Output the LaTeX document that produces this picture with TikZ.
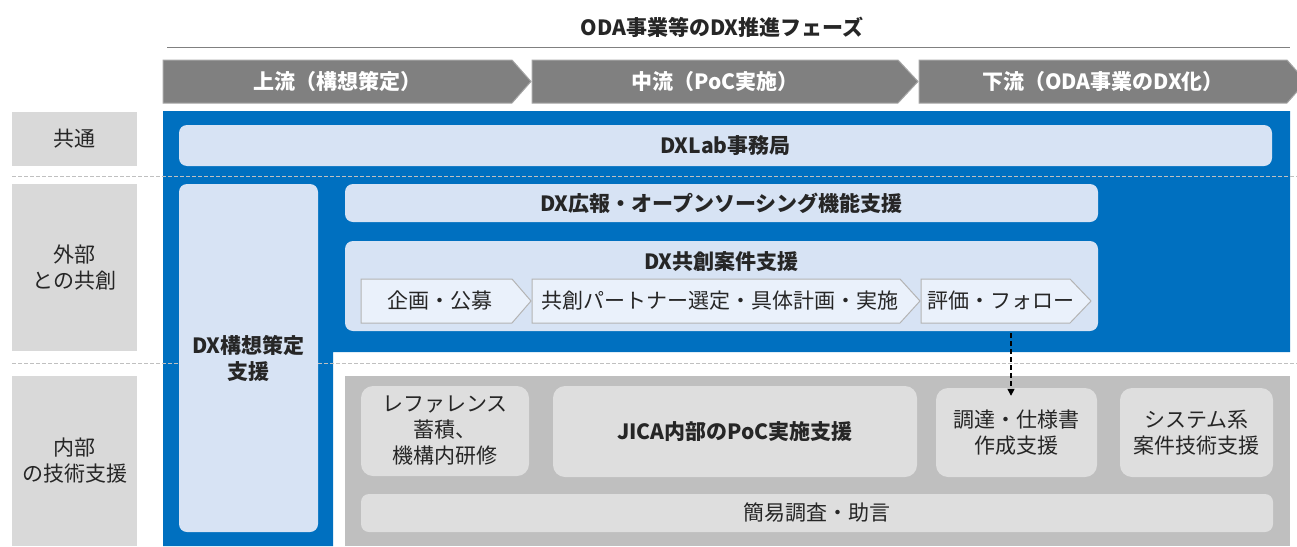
\documentclass[tikz,border=0pt]{standalone}
\usepackage{fontspec}
\setmainfont{Noto Sans CJK JP}
\usetikzlibrary{arrows.meta}
\definecolor{dxblue}{HTML}{0070C0}
\definecolor{lblue}{HTML}{D7E3F4}
\definecolor{chevin}{HTML}{EAF1FB}
\definecolor{chevline}{HTML}{B4B4B4}
\definecolor{labgray}{HTML}{D9D9D9}
\definecolor{areagray}{HTML}{BFBFBF}
\definecolor{boxgray}{HTML}{DEDEDE}
\definecolor{phasegray}{HTML}{808080}
\definecolor{phaseline}{HTML}{A6A6A6}
\definecolor{txt}{HTML}{262626}
\definecolor{sepgray}{HTML}{C0C0C0}
\newcommand{\fsz}{\fontsize{21}{26}\selectfont}
\begin{document}
\begin{tikzpicture}[x=1pt,y=-1pt,
  font=\fsz,
  lab/.style={fill=labgray, inner sep=0pt, align=center, text=txt},
  lbox/.style={fill=lblue, rounded corners=8pt, inner sep=0pt, align=center, text=txt},
  gbox/.style={fill=boxgray, rounded corners=12pt, inner sep=0pt, align=center, text=txt},
  phase/.style={fill=phasegray, draw=phaseline, line width=1pt},
  phasetext/.style={text=white, font=\fsz\bfseries, inner sep=0pt},
  chevbox/.style={fill=chevin, draw=chevline, line width=1pt},
  chevtext/.style={text=txt, inner sep=0pt},
  sepline/.style={draw=sepgray, line width=1pt, dash pattern=on 4pt off 2pt},
  dasharrow/.style={draw=black, line width=1.3pt, dash pattern=on 5pt off 3pt, -{Triangle[length=7pt,width=7pt]}}
]
\useasboundingbox (0,0) rectangle (1297,546);

% title
\node[text=txt, font=\fsz\bfseries, inner sep=0pt] (title) at (722,27) {ODA事業等のDX推進フェーズ};
\draw[draw=phasegray, line width=1pt] (167,47) -- (1290,47);

% phase chevrons
\path[phase] (163,60) -- (512,60) -- (531,81.5) -- (512,103) -- (163,103) -- cycle;
\node[phasetext] (ph1) at (337.5,81.5) {上流（構想策定）};
\path[phase] (532,60) -- (898,60) -- (918,81.5) -- (898,103) -- (532,103) -- cycle;
\node[phasetext] (ph2) at (715,81.5) {中流（PoC実施）};
\path[phase] (919,60) -- (1287,60) -- (1306,81.5) -- (1287,103) -- (919,103) -- cycle;
\node[phasetext] (ph3) at (1103,81.5) {下流（ODA事業のDX化）};

% row labels
\node[lab, minimum width=125pt, minimum height=54pt] (lab1) at (74.5,139) {共通};
\node[lab, minimum width=125pt, minimum height=167pt] (lab2) at (74.5,267.5) {外部\\との共創};
\node[lab, minimum width=125pt, minimum height=170pt] (lab3) at (74.5,461) {内部\\の技術支援};

% blue and gray areas
\fill[dxblue] (163,111) -- (1290,111) -- (1290,352) -- (333,352) -- (333,546) -- (163,546) -- cycle;
\fill[areagray] (345,376) rectangle (1290,546);

% separators
\draw[sepline] (12,176) -- (1297,176);
\draw[sepline] (12,363) -- (1297,363);

% blue boxes
\node[lbox, minimum width=1093pt, minimum height=41pt, font=\fsz\bfseries] (dxlab) at (725.5,145.5) {DXLab事務局};
\node[lbox, minimum width=139pt, minimum height=348pt, font=\fsz\bfseries] (concept) at (248.5,358) {DX構想策定\\支援};
\node[lbox, minimum width=753pt, minimum height=38pt, font=\fsz\bfseries] (pr) at (721.5,203) {DX広報・オープンソーシング機能支援};
\node[lbox, minimum width=753pt, minimum height=90pt] (cocreate) at (721.5,286) {};
\node[text=txt, inner sep=0pt, font=\fsz\bfseries] (cotitle) at (721.5,262) {DX共創案件支援};

% inner chevrons
\path[chevbox] (361,279) -- (512,279) -- (531,301) -- (512,323) -- (361,323) -- cycle;
\node[chevtext] (plan) at (440,301) {企画・公募};
\path[chevbox] (532,279) -- (900,279) -- (920,301) -- (900,323) -- (532,323) -- cycle;
\node[chevtext] (partner) at (720,301) {共創パートナー選定・具体計画・実施};
\path[chevbox] (921,279) -- (1070,279) -- (1091,301) -- (1070,323) -- (921,323) -- cycle;
\node[chevtext] (eval) at (1001,301) {評価・フォロー};

% gray boxes
\node[gbox, minimum width=168pt, minimum height=90pt] (ref) at (445,431) {レファレンス\\蓄積、\\機構内研修};
\node[gbox, minimum width=364pt, minimum height=91pt, font=\fsz\bfseries] (jica) at (735,431.5) {JICA内部のPoC実施支援};
\node[gbox, minimum width=161pt, minimum height=89pt] (proc) at (1016.5,432.5) {調達・仕様書\\作成支援};
\node[gbox, minimum width=153pt, minimum height=89pt] (sys) at (1196.5,432.5) {システム系\\案件技術支援};
\node[gbox, minimum width=912pt, minimum height=38pt, rounded corners=8pt] (simple) at (817,513) {簡易調査・助言};

% dashed arrow
\coordinate (ax) at (1011,0);
\draw[dasharrow] ([yshift=-2pt]cocreate.south -| ax) -- ([yshift=-8pt]proc.north -| ax);
\end{tikzpicture}
\end{document}
